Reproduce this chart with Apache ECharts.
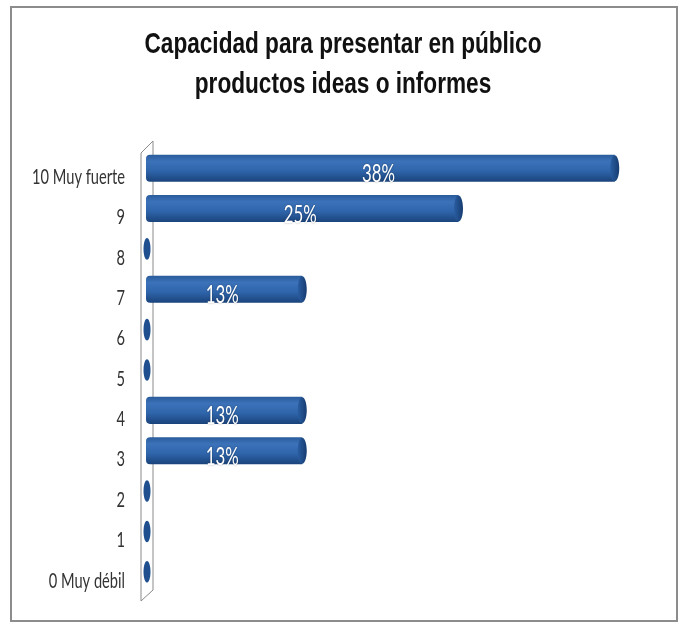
<!DOCTYPE html>
<html>
<head>
<meta charset="utf-8">
<script src="https://cdn.jsdelivr.net/npm/echarts@6/dist/echarts.min.js"></script>
<style>
    html, body {
        margin: 0;
        padding: 0;
        background: #ffffff;
    }
    #chart {
        position: absolute;
        left: 0;
        top: 0;
        width: 684px;
        height: 629px;
    }
    #frame {
        position: absolute;
        left: 10px;
        top: 6px;
        width: 664px;
        height: 612px;
        border: 2px solid #8c8c8c;
        pointer-events: none;
    }
</style>
</head>
<body>
<div id="chart"></div>
<div id="frame"></div>
<script>
// ========================================
// 数据
// ========================================

const titleLines = [
    "Capacidad para presentar en público",
    "productos ideas o informes"
];

const categories = [
    "10 Muy fuerte", "9", "8", "7", "6", "5", "4", "3", "2", "1", "0 Muy débil"
];

const percentValues = [
    37.5, 25, 0, 12.5, 0, 0, 12.5, 12.5, 0, 0, 0
];

// ========================================
// 字体 (图片里的字是横向压缩的)
// ========================================

const titleFont = "bold 30px 'Liberation Sans', Arial, sans-serif";
const labelFont = "21px Lato, 'Open Sans', sans-serif";
const valueFont = "25px Lato, 'Open Sans', sans-serif";

const measureCtx = document.createElement("canvas").getContext("2d");

function textWidth(font, text) {
    measureCtx.font = font;
    return measureCtx.measureText(text).width;
}

const titleScale = 397 / textWidth(titleFont, titleLines[0]);
const labelScale = 93 / textWidth(labelFont, "10 Muy fuerte");
const valueScale = 33 / textWidth(valueFont, "13%");

// ========================================
// 图表
// ========================================

const chart = echarts.init(document.getElementById("chart"));

const barGradient = new echarts.graphic.LinearGradient(0, 0, 0, 1, [
    { offset: 0, color: "#2a5c9c" },
    { offset: 0.25, color: "#3c72b9" },
    { offset: 0.6, color: "#2f65ab" },
    { offset: 1, color: "#1a437b" }
]);

const capGradient = new echarts.graphic.LinearGradient(0, 0, 1, 0, [
    { offset: 0, color: "#2a5ea2" },
    { offset: 1, color: "#173c70" }
]);

function renderCylinder(params, api) {
    const cat = api.value(1);
    const val = api.value(0);
    const start = api.coord([0, cat]);
    const end = api.coord([val, cat]);
    const band = api.size([0, 1])[1];
    const h = band * 0.67;
    const children = [];

    // 类别标签
    children.push({
        type: "text",
        x: start[0] - 21,
        y: start[1] + 9,
        scaleX: labelScale,
        style: {
            text: categories[cat],
            fill: "#333333",
            font: labelFont,
            align: "right",
            verticalAlign: "middle"
        }
    });

    if (val > 0) {
        children.push({
            type: "rect",
            shape: {
                x: start[0],
                y: start[1] - h / 2,
                width: end[0] - start[0],
                height: h,
                r: [h / 2 * 0.3, 0, 0, h / 2 * 0.3]
            },
            style: { fill: barGradient }
        });
        children.push({
            type: "ellipse",
            shape: { cx: end[0], cy: end[1], rx: 4.5, ry: h / 2 - 0.5 },
            style: { fill: capGradient }
        });
        children.push({
            type: "text",
            x: (start[0] + end[0]) / 2 - 2,
            y: end[1] + 6,
            scaleX: valueScale,
            style: {
                text: Math.round(val) + "%",
                fill: "#ffffff",
                font: valueFont,
                align: "center",
                verticalAlign: "middle",
                textShadowColor: "rgba(0,0,0,0.35)",
                textShadowBlur: 2
            }
        });
    } else {
        children.push({
            type: "ellipse",
            shape: { cx: start[0] + 1, cy: start[1], rx: 3.5, ry: h / 2 * 0.8 },
            style: { fill: "#1f4f8f" }
        });
    }

    return { type: "group", children: children };
}

chart.setOption({
    animation: false,
    backgroundColor: "#ffffff",
    grid: {
        left: 146,
        right: 38,
        top: 148,
        bottom: 37
    },
    xAxis: {
        type: "value",
        min: 0,
        max: 40,
        show: false
    },
    yAxis: {
        type: "category",
        inverse: true,
        data: categories,
        axisLine: { show: false },
        axisTick: { show: false },
        splitLine: { show: false },
        axisLabel: { show: false }
    },
    series: [{
        type: "custom",
        z: 3,
        renderItem: renderCylinder,
        encode: { x: 0, y: 1 },
        data: percentValues.map((v, i) => [v, i])
    }]
});

// 3D墙 + 标题
const gridTop = chart.convertToPixel({ gridIndex: 0 }, [0, 0]);
const band = chart.convertToPixel({ gridIndex: 0 }, [0, 1])[1] - gridTop[1];
const bottomY = chart.convertToPixel({ gridIndex: 0 }, [0, categories.length - 1])[1];
const wx = gridTop[0];
const topEdge = gridTop[1] - band / 2;
const bottomEdge = bottomY + band / 2;

chart.setOption({
    graphic: [{
        type: "polygon",
        z: 1,
        shape: {
            points: [
                [wx - 5, topEdge + 5],
                [wx + 7, topEdge - 7],
                [wx + 7, bottomEdge - 2],
                [wx - 5, bottomEdge + 9]
            ]
        },
        style: { fill: "#ffffff", stroke: "#8a8a8a", lineWidth: 1 }
    }].concat(titleLines.map((line, i) => ({
        type: "text",
        z: 5,
        x: 343,
        y: 45 + i * 40,
        scaleX: titleScale,
        style: {
            text: line,
            font: titleFont,
            fill: "#111111",
            align: "center",
            verticalAlign: "middle"
        }
    })))
});
</script>
</body>
</html>
